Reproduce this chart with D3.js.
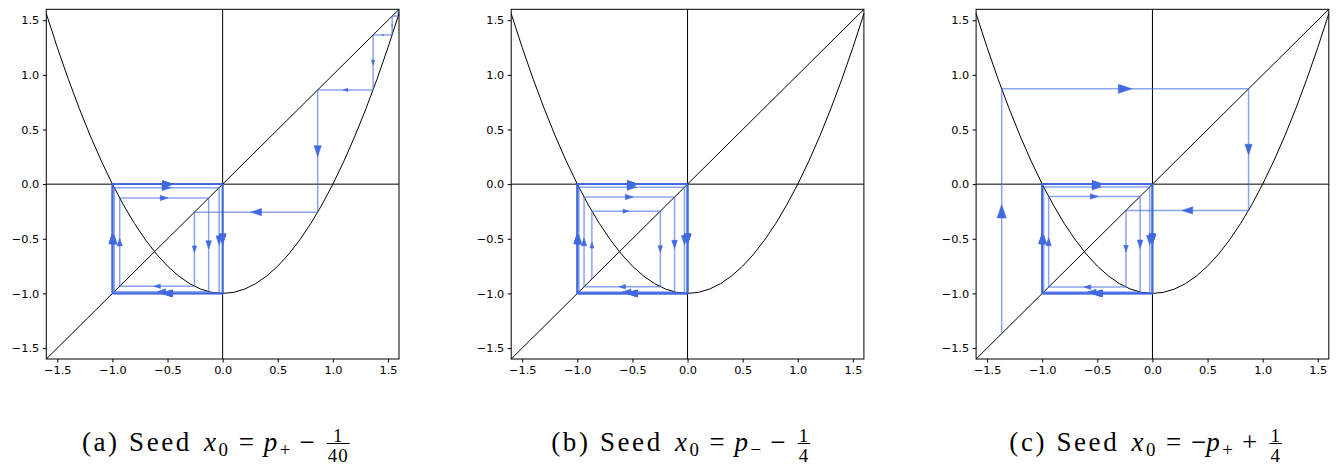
<!DOCTYPE html>
<html>
<head>
<meta charset="utf-8">
<script src="https://cdn.jsdelivr.net/npm/d3@7"></script>
<style>
  html, body { margin: 0; padding: 0; background: #fff; }
  svg { display: block; }
</style>
</head>
<body>
<svg id="fig" width="1340" height="466"></svg>
<script>
// Orbits of the map f(x) = x^2 - 1 for three seeds (x0, x1, x2, ...)
const orbitA = [1.593, 1.538, 1.365, 0.862, -0.256, -0.934, -0.127, -0.984, -0.032, -0.999,
                -0.002, -1.0, 0.0, -1.0, 0.0, -1.0, 0.0, -1.0, 0.0, -1.0, 0.0];
const orbitB = [-0.868, -0.247, -0.939, -0.118, -0.986, -0.028, -0.999, -0.002, -1.0, 0.0,
                -1.0, 0.0, -1.0, 0.0, -1.0, 0.0, -1.0, 0.0, -1.0, 0.0, -1.0];
const orbitC = [-1.368, 0.872, -0.240, -0.942, -0.112, -0.987, -0.025, -0.999, -0.001, -1.0,
                0.0, -1.0, 0.0, -1.0, 0.0, -1.0, 0.0, -1.0, 0.0, -1.0, 0.0];

// Axis ranges and tick labels
const axisDomain = [-1.6, 1.6];
const tickValues = [-1.5, -1.0, -0.5, 0.0, 0.5, 1.0, 1.5];

// y = x^2 - 1 on [-1.6, 1.6], given as the control points of its exact quadratic Bézier
const parabolaX = [-1.6, 0.0, 1.6];
const parabolaY = [1.56, -3.56, 1.56];

// Diagonal y = x
const diagonalX = [-1.6, 1.6];

// Caption tokens: roman text, math italic, subscripts, relations, binary ops, fractions
const captions = [
  [["rm", "(a) Seed"], ["space"], ["it", "x"], ["sub", "0"], ["rel", "="], ["it", "p"], ["sub", "+"], ["bin", "\u2212"], ["frac", "1", "40"]],
  [["rm", "(b) Seed"], ["space"], ["it", "x"], ["sub", "0"], ["rel", "="], ["it", "p"], ["sub", "\u2212"], ["bin", "\u2212"], ["frac", "1", "4"]],
  [["rm", "(c) Seed"], ["space"], ["it", "x"], ["sub", "0"], ["rel", "="], ["ord", "\u2212"], ["it", "p"], ["sub", "+"], ["bin", "+"], ["frac", "1", "4"]]
];

const orbits = [orbitA, orbitB, orbitC];

// ---- layout ----
const panelLeft = [46.3, 511.2, 976.1];
const plotTop = 9.3, plotW = 352.7, plotH = 349.7;
const cobwebColor = "royalblue";
const serifFont = "'Times New Roman', Times, 'Liberation Serif', 'DejaVu Serif', serif";

const svg = d3.select("#fig");

orbits.forEach((orbit, i) => {
  const left = panelLeft[i];
  const x = d3.scaleLinear().domain(axisDomain).range([left, left + plotW]);
  const y = d3.scaleLinear().domain(axisDomain).range([plotTop + plotH, plotTop]);
  const g = svg.append("g");

  // parabola
  const p = d3.path();
  p.moveTo(x(parabolaX[0]), y(parabolaY[0]));
  p.quadraticCurveTo(x(parabolaX[1]), y(parabolaY[1]), x(parabolaX[2]), y(parabolaY[2]));
  g.append("path").attr("d", p.toString())
    .attr("fill", "none").attr("stroke", "#000").attr("stroke-width", 1);

  // diagonal
  g.append("line")
    .attr("x1", x(diagonalX[0])).attr("y1", y(diagonalX[0]))
    .attr("x2", x(diagonalX[1])).attr("y2", y(diagonalX[1]))
    .attr("stroke", "#000").attr("stroke-width", 1);

  // coordinate axes through the origin
  g.append("line").attr("x1", x(axisDomain[0])).attr("x2", x(axisDomain[1]))
    .attr("y1", y(0)).attr("y2", y(0)).attr("stroke", "#000").attr("stroke-width", 1);
  g.append("line").attr("y1", y(axisDomain[0])).attr("y2", y(axisDomain[1]))
    .attr("x1", x(0)).attr("x2", x(0)).attr("stroke", "#000").attr("stroke-width", 1);

  // cobweb segments: vertical to the curve, horizontal to the diagonal
  const segs = [];
  for (let k = 0; k < orbit.length - 1; k++) {
    const a = orbit[k], b = orbit[k + 1];
    segs.push([a, a, a, b]);
    segs.push([a, b, b, b]);
  }

  g.append("g").selectAll("line").data(segs).join("line")
    .attr("x1", d => x(d[0])).attr("y1", d => y(d[1]))
    .attr("x2", d => x(d[2])).attr("y2", d => y(d[3]))
    .attr("stroke", cobwebColor).attr("stroke-opacity", 0.6)
    .attr("stroke-width", 1.5);

  // direction arrows at the middle of each segment, sized by segment length
  const heads = segs.map(d => {
    const x1 = x(d[0]), y1 = y(d[1]), x2 = x(d[2]), y2 = y(d[3]);
    const dx = x2 - x1, dy = y2 - y1, L = Math.hypot(dx, dy);
    if (L < 1) return null;
    const hl = Math.min(0.088 * L, 13.5), hw = hl * 0.34;
    const ux = dx / L, uy = dy / L, mx = (x1 + x2) / 2, my = (y1 + y2) / 2;
    const tx = mx + ux * hl / 2, ty = my + uy * hl / 2;
    const bx = mx - ux * hl / 2, by = my - uy * hl / 2;
    return [[tx, ty], [bx - uy * hw, by + ux * hw], [bx + uy * hw, by - ux * hw]];
  }).filter(Boolean);

  g.append("g").selectAll("path").data(heads).join("path")
    .attr("d", d => "M" + d.map(q => q[0].toFixed(2) + "," + q[1].toFixed(2)).join("L") + "Z")
    .attr("fill", cobwebColor).attr("stroke", cobwebColor).attr("stroke-width", 0.5);

  // frame
  g.append("rect").attr("x", left).attr("y", plotTop).attr("width", plotW).attr("height", plotH)
    .attr("fill", "none").attr("stroke", "#000").attr("stroke-width", 1);

  // axes
  const fmt = d3.format(".1f");
  const ax = g.append("g").attr("transform", `translate(0,${plotTop + plotH})`)
    .call(d3.axisBottom(x).tickValues(tickValues).tickFormat(fmt).tickSize(3.5).tickPadding(3.5));
  const ay = g.append("g").attr("transform", `translate(${left},0)`)
    .call(d3.axisLeft(y).tickValues(tickValues).tickFormat(fmt).tickSize(3.5).tickPadding(3.5));
  [ax, ay].forEach(a => {
    a.attr("font-family", "DejaVu Sans").attr("font-size", 11.3);
    a.select(".domain").remove();
    a.selectAll(".tick line").attr("stroke", "#000").attr("stroke-width", 1);
    a.selectAll(".tick text").attr("fill", "#000");
  });

  // caption
  drawCaption(captions[i], left + 169.5, 450.5);
});

function drawCaption(tokens, cx, baseline) {
  const fs = 27, ss = fs * 0.7;
  const cap = svg.append("g").style("font-family", serifFont);
  let cur = 0;
  const put = (str, size, style, dy, ls) => {
    const t = cap.append("text").attr("x", cur).attr("y", baseline + dy)
      .style("font-family", serifFont)
      .attr("font-size", size).attr("font-style", style)
      .attr("letter-spacing", ls)
      .attr("fill", "#000").text(str);
    cur += t.node().getComputedTextLength();
    return t;
  };
  tokens.forEach(tok => {
    const kind = tok[0];
    if (kind === "rm") put(tok[1], fs, "normal", 0, 2.6);
    else if (kind === "space") cur += 0.45 * fs;
    else if (kind === "it") put(tok[1], fs, "italic", 0, 2);
    else if (kind === "sub") { cur += 0.5; put(tok[1], ss, "normal", 0.2 * fs, 1); }
    else if (kind === "ord") put(tok[1], fs, "normal", 0, 0);
    else if (kind === "rel") { cur += 0.36 * fs; put(tok[1], fs, "normal", 0, 0); cur += 0.36 * fs; }
    else if (kind === "bin") { cur += 0.3 * fs; put(tok[1], fs, "normal", 0, 0); cur += 0.3 * fs; }
    else if (kind === "frac") {
      cur += 0.15 * fs;
      const x0 = cur;
      const mk = (s, dy) => cap.append("text").attr("y", baseline + dy)
        .style("font-family", serifFont).attr("letter-spacing", 1)
        .attr("font-size", ss).attr("fill", "#000").attr("text-anchor", "middle").text(s);
      const num = mk(tok[1], -9), den = mk(tok[2], 11.5);
      const w = Math.max(num.node().getComputedTextLength(), den.node().getComputedTextLength()) + 2;
      num.attr("x", x0 + w / 2); den.attr("x", x0 + w / 2);
      cap.append("line").attr("x1", x0).attr("x2", x0 + w)
        .attr("y1", baseline - 7).attr("y2", baseline - 7)
        .attr("stroke", "#000").attr("stroke-width", 1);
      cur += w;
    }
  });
  cap.attr("transform", `translate(${cx - cur / 2},0)`);
}
</script>
</body>
</html>
